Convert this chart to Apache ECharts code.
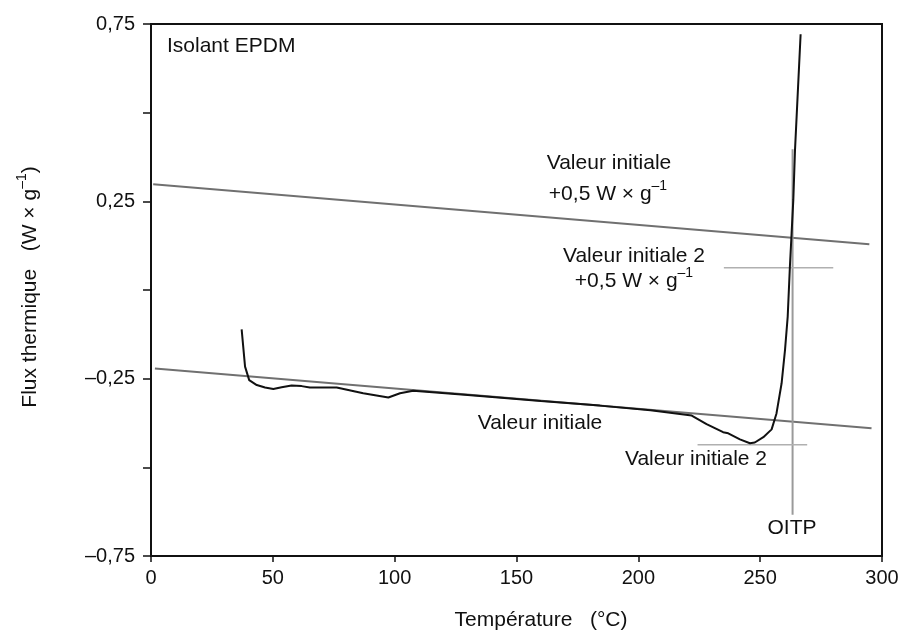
<!DOCTYPE html>
<html>
<head>
<meta charset="utf-8">
<script src="https://cdn.jsdelivr.net/npm/echarts@6/dist/echarts.min.js"></script>
<style>html,body{margin:0;padding:0;background:#fff}#c{width:903px;height:635px}</style>
</head>
<body>
<div id="c"></div>
<script>
// DSC curve: temperature (°C) and heat flux (W/g)
const curveTemp = [37.2, 38.6, 40.3, 43.4, 46.8, 50.2, 53.6, 57.7, 61.8, 65.2, 76.2, 87.1, 97.4, 102.2, 107.6, 130, 160, 184.2, 205, 221.9, 228, 234.8, 236.9, 241.7, 245.8, 247.8, 251.3, 254.7, 256.7, 258.8, 260.2, 261.3, 262.2, 262.9, 263.6, 264.3, 266.6];
const curveFlux = [-0.111, -0.216, -0.254, -0.268, -0.275, -0.279, -0.274, -0.269, -0.271, -0.275, -0.275, -0.291, -0.303, -0.291, -0.284, -0.296, -0.313, -0.326, -0.339, -0.354, -0.378, -0.401, -0.404, -0.421, -0.432, -0.430, -0.415, -0.393, -0.348, -0.263, -0.169, -0.075, 0.066, 0.160, 0.254, 0.395, 0.721];
// Baseline "Valeur initiale"
const baseTemp = [1.6, 295.7];
const baseFlux = [-0.221, -0.390];
// Baseline + 0.5 W/g
const upperTemp = [0.9, 294.8];
const upperFlux = [0.298, 0.129];
// OITP vertical line
const oitpTemp = [263.3, 263.3];
const oitpFlux = [0.397, -0.634];
// "Valeur initiale 2 + 0,5" horizontal marker
const v2upTemp = [235.1, 280.0];
const v2upFlux = [0.063, 0.063];
// "Valeur initiale 2" horizontal marker
const v2Temp = [224.3, 269.3];
const v2Flux = [-0.436, -0.436];
// axis ticks
const xTicks = {min: 0, max: 300, step: 50};
const yTicks = {min: -0.75, max: 0.75, step: 0.25};
const yLabelled = [-0.75, -0.25, 0.25, 0.75];

const zip = (a, b) => a.map((v, i) => [v, b[i]]);
const FONT = '"Liberation Sans", Arial, Helvetica, sans-serif';

const chart = echarts.init(document.getElementById('c'), null, {renderer: 'canvas'});

function lineSeries(data, color, width, z) {
  return {type: 'line', data: data, showSymbol: false, symbol: 'none', silent: true,
          lineStyle: {color: color, width: width}, z: z, animation: false};
}

const supRich = {
  a: {fontSize: 21, fontFamily: FONT, color: '#111', lineHeight: 30},
  s: {fontSize: 14, fontFamily: FONT, color: '#111', verticalAlign: 'top', lineHeight: 16}
};

function txt(x, y, text, align, rich) {
  const style = {x: x, y: y, text: text, fontSize: 21, fontFamily: FONT, fill: '#111',
                 align: align || 'center', verticalAlign: 'middle'};
  if (rich) style.rich = rich;
  return {type: 'text', style: style, silent: true, z: 100};
}

chart.setOption({
  animation: false,
  backgroundColor: '#fff',
  grid: {left: 151, right: 21, top: 24, bottom: 79, show: true, borderColor: '#111', borderWidth: 2},
  xAxis: {
    type: 'value', min: xTicks.min, max: xTicks.max, interval: xTicks.step,
    axisLine: {onZero: false, lineStyle: {color: '#111', width: 2}},
    axisTick: {inside: false, length: 6, lineStyle: {color: '#111', width: 1.5}},
    axisLabel: {fontSize: 20, fontFamily: FONT, color: '#111', margin: 12},
    splitLine: {show: false}
  },
  yAxis: {
    type: 'value', min: yTicks.min, max: yTicks.max, interval: yTicks.step,
    axisLine: {show: true, onZero: false, lineStyle: {color: '#111', width: 2}},
    axisTick: {show: true, inside: false, length: 8, lineStyle: {color: '#111', width: 1.5}},
    axisLabel: {
      fontSize: 20, fontFamily: FONT, color: '#111', margin: 16,
      formatter: function (v) {
        const hit = yLabelled.some(t => Math.abs(t - v) < 1e-9);
        if (!hit) return '';
        return (v < 0 ? '\u2013' : '') + Math.abs(v).toFixed(2).replace('.', ',');
      }
    },
    splitLine: {show: false}
  },
  series: [
    lineSeries(zip(baseTemp, baseFlux), '#707070', 2, 2),
    lineSeries(zip(upperTemp, upperFlux), '#707070', 2, 2),
    lineSeries(zip(oitpTemp, oitpFlux), '#9a9a9a', 2, 3),
    lineSeries(zip(v2upTemp, v2upFlux), '#b0b0b0', 1.5, 3),
    lineSeries(zip(v2Temp, v2Flux), '#b0b0b0', 1.5, 3),
    lineSeries(zip(curveTemp, curveFlux), '#111', 2, 5)
  ],
  graphic: [
    txt(167, 46, 'Isolant EPDM', 'left'),
    txt(609, 163, 'Valeur initiale'),
    txt(608, 194, '{a|+0,5 W \u00d7 g}{s|\u20131}', 'center', supRich),
    txt(634, 256, 'Valeur initiale 2'),
    txt(634, 281, '{a|+0,5 W \u00d7 g}{s|\u20131}', 'center', supRich),
    txt(540, 423, 'Valeur initiale'),
    txt(696, 459, 'Valeur initiale 2'),
    txt(792, 528, 'OITP'),
    txt(541, 620, 'Temp\u00e9rature   (\u00b0C)'),
    {type: 'text', x: 30, y: 287, rotation: Math.PI / 2, silent: true, z: 100,
     style: {x: 0, y: 0, text: '{a|Flux thermique   (W \u00d7 g}{s|\u20131}{a|)}', fontSize: 21, fontFamily: FONT,
             fill: '#111', align: 'center', verticalAlign: 'middle', rich: supRich}}
  ]
});
</script>
</body>
</html>
